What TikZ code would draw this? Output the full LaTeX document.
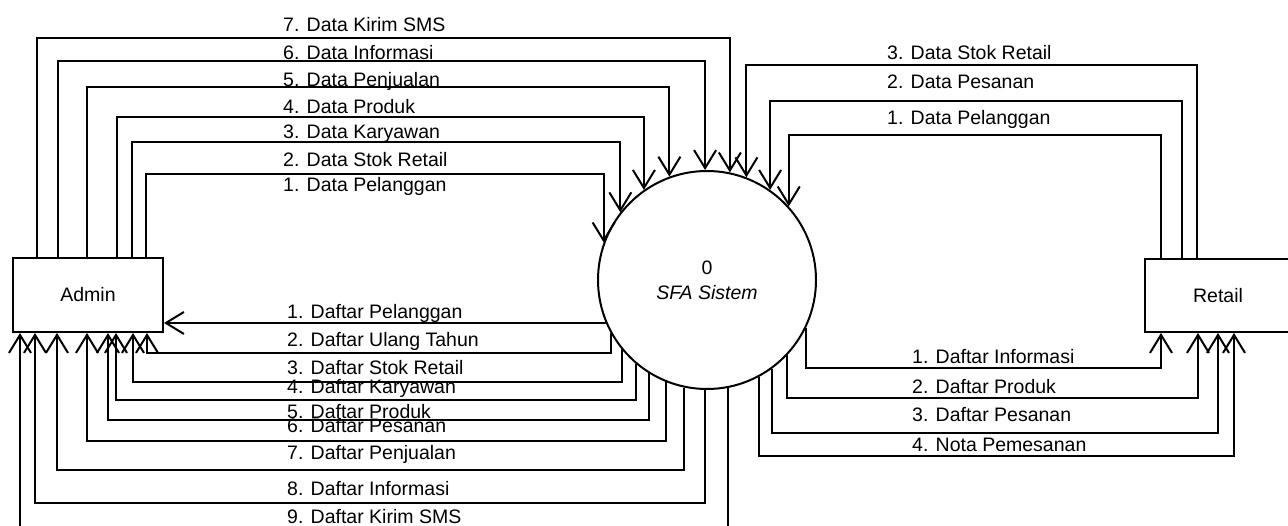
\documentclass[tikz,border=0pt]{standalone}
\usepackage{fontspec}
\setmainfont{Liberation Sans}
\usetikzlibrary{arrows.meta}
\tikzset{
  entity/.style={draw, line width=2pt, inner sep=0pt, font=\fontsize{19.5}{23}\selectfont},
  proc/.style={circle, draw, line width=2pt, minimum size=218pt, inner sep=0pt, align=center,
               font=\fontsize{19.5}{25}\selectfont},
  flow/.style={line width=2pt, -{Straight Barb[length=18pt,width=22pt]}},
  lbl/.style={anchor=base west, inner sep=0pt, font=\fontsize{19.5}{23}\selectfont},
}
\begin{document}
\begin{tikzpicture}[x=1pt, y=-1pt]
\useasboundingbox (0,0) rectangle (1288,526);

% external entities and the process
\node[entity, minimum width=150pt, minimum height=74pt] (adm) at (88,295) {Admin};
\node[entity, minimum width=146pt, minimum height=73pt] (ret) at (1218,295.5) {Retail};
\node[proc] (c) at (707,280) {0\\\textit{SFA Sistem}};

% Admin -> SFA Sistem
\draw[flow] (adm.north -| 37,0)  -- (37,38)  -| (c.78.36);
\draw[flow] (adm.north -| 58,0)  -- (58,61)  -| (c.91.05);
\draw[flow] (adm.north -| 87,0)  -- (87,87)  -| (c.110.4);
\draw[flow] (adm.north -| 117,0) -- (117,117) -| (c.125.96);
\draw[flow] (adm.north -| 132,0) -- (132,142) -| (c.142.1);
\draw[flow] (adm.north -| 146,0) -- (146,174) -| (c.160.9);

\node[lbl] (la7) at (283,32)  {7. Data Kirim SMS};
\node[lbl] (la6) at (283,60)  {6. Data Informasi};
\node[lbl] (la5) at (283,87)  {5. Data Penjualan};
\node[lbl] (la4) at (283,114) {4. Data Produk};
\node[lbl] (la3) at (283,139) {3. Data Karyawan};
\node[lbl] (la2) at (283,167) {2. Data Stok Retail};
\node[lbl] (la1) at (283,192) {1. Data Pelanggan};

% SFA Sistem -> Admin
\draw[flow] (c.203.8) -- (adm.east |- c.203.8);
\draw[flow] (c.-151.7) |- (147,353) -- (adm.south -| 147,0);
\draw[flow] (c.-141.2) |- (133,382) -- (adm.south -| 133,0);
\draw[flow] (c.-130.6) |- (116,400) -- (adm.south -| 116,0);
\draw[flow] (c.-122.1) |- (108,420) -- (adm.south -| 108,0);
\draw[flow] (c.-112.7) |- (87,441)  -- (adm.south -| 87,0);
\draw[flow] (c.-102.7) |- (57,470)  -- (adm.south -| 57,0);
\draw[flow] (c.-91.6)  |- (35,503)  -- (adm.south -| 35,0);
\draw[flow] (c.-79.4)  |- (20,540)  -- (adm.south -| 20,0);

\node[lbl] (lb1) at (287,319) {1. Daftar Pelanggan};
\node[lbl] (lb2) at (287,347) {2. Daftar Ulang Tahun};
\node[lbl] (lb3) at (287,375) {3. Daftar Stok Retail};
\node[lbl] (lb4) at (287,394) {4. Daftar Karyawan};
\node[lbl] (lb5) at (287,418) {5. Daftar Produk};
\node[lbl] (lb6) at (287,432) {6. Daftar Pesanan};
\node[lbl] (lb7) at (287,460) {7. Daftar Penjualan};
\node[lbl] (lb8) at (287,495) {8. Daftar Informasi};
\node[lbl] (lb9) at (287,523) {9. Daftar Kirim SMS};

% Retail -> SFA Sistem
\draw[flow] (ret.north -| 1197,0) -- (1197,65)  -| (c.69.6);
\draw[flow] (ret.north -| 1182,0) -- (1182,101) -| (c.55.97);
\draw[flow] (ret.north -| 1161,0) -- (1161,135) -| (c.42.0);

\node[lbl] (lc3) at (887,60)  {3. Data Stok Retail};
\node[lbl] (lc2) at (887,89)  {2. Data Pesanan};
\node[lbl] (lc1) at (887,125) {1. Data Pelanggan};

% SFA Sistem -> Retail
\draw[flow] (c.-26.0)  |- (1161,368) -- (ret.south -| 1161,0);
\draw[flow] (c.-43.55) |- (1198,398) -- (ret.south -| 1198,0);
\draw[flow] (c.-54.7)  |- (1218,433) -- (ret.south -| 1218,0);
\draw[flow] (c.-62.7)  |- (1234,456) -- (ret.south -| 1234,0);

\node[lbl] (ld1) at (912,364) {1. Daftar Informasi};
\node[lbl] (ld2) at (912,394) {2. Daftar Produk};
\node[lbl] (ld3) at (912,422) {3. Daftar Pesanan};
\node[lbl] (ld4) at (912,451) {4. Nota Pemesanan};
\end{tikzpicture}
\end{document}
